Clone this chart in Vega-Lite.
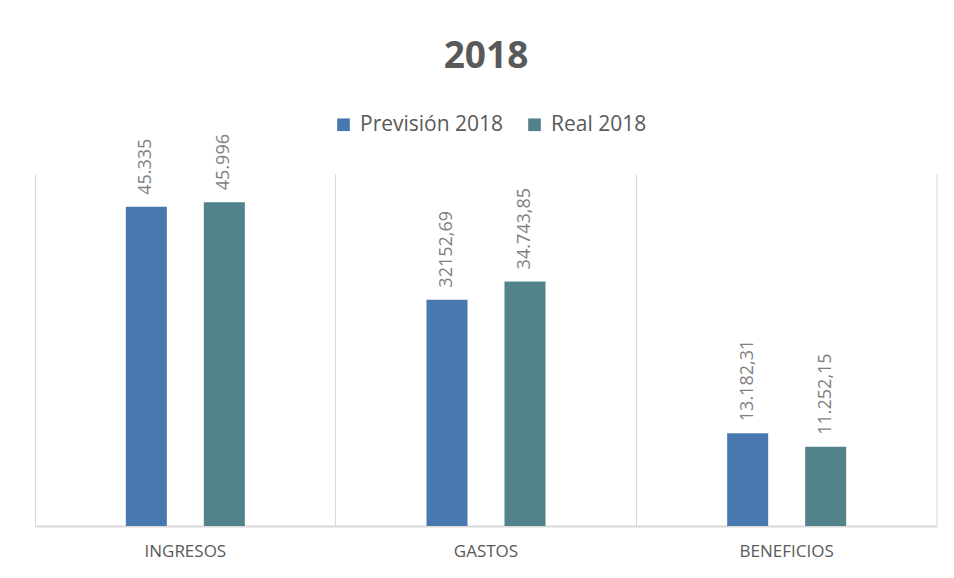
{
  "$schema": "https://vega.github.io/schema/vega-lite/v6.json",
  "width": 902,
  "height": 352,
  "autosize": {"type": "pad"},
  "padding": {"left": 35, "top": 38, "right": 17, "bottom": 10},
  "background": "#ffffff",
  "config": {"view": {"stroke": null}, "font": "Open Sans"},
  "title": {
    "text": "2018",
    "font": "Open Sans",
    "fontSize": 37,
    "fontWeight": "bold",
    "color": "#595959",
    "anchor": "middle",
    "frame": "group",
    "offset": 38
  },
  "layer": [
    {
      "data": {
        "values": [
          {"cat": "INGRESOS", "serie": "Previsión 2018", "valor": 45335, "etiqueta": "45.335"},
          {"cat": "INGRESOS", "serie": "Real 2018", "valor": 45996, "etiqueta": "45.996"},
          {"cat": "GASTOS", "serie": "Previsión 2018", "valor": 32152.69, "etiqueta": "32152,69"},
          {"cat": "GASTOS", "serie": "Real 2018", "valor": 34743.85, "etiqueta": "34.743,85"},
          {"cat": "BENEFICIOS", "serie": "Previsión 2018", "valor": 13182.31, "etiqueta": "13.182,31"},
          {"cat": "BENEFICIOS", "serie": "Real 2018", "valor": 11252.15, "etiqueta": "11.252,15"}
        ]
      },
      "encoding": {
        "x": {
          "field": "cat",
          "type": "nominal",
          "sort": ["INGRESOS", "GASTOS", "BENEFICIOS"],
          "scale": {"paddingInner": 0, "paddingOuter": 0},
          "axis": {
            "title": null,
            "labelAngle": 0,
            "grid": true,
            "bandPosition": 0,
            "gridColor": "#d9d9d9",
            "gridWidth": 1,
            "domainColor": "#d9d9d9",
            "domainWidth": 2,
            "ticks": false,
            "labelFont": "Open Sans",
            "labelFontSize": 17,
            "labelColor": "#595959",
            "labelPadding": 17
          }
        },
        "xOffset": {
          "field": "serie",
          "type": "nominal",
          "scale": {
            "domain": [" ", "Previsión 2018", "Real 2018", "  "],
            "paddingInner": 0.474,
            "paddingOuter": 0.165
          }
        },
        "y": {
          "field": "valor",
          "type": "quantitative",
          "scale": {"domain": [0, 50000], "nice": false},
          "axis": null
        }
      },
      "layer": [
        {
          "mark": {"type": "bar"},
          "encoding": {
            "color": {
              "field": "serie",
              "type": "nominal",
              "scale": {"domain": ["Previsión 2018", "Real 2018"], "range": ["#4878b0", "#52838a"]},
              "legend": {
                "title": null,
                "orient": "none",
                "direction": "horizontal",
                "legendX": 298,
                "legendY": -60,
                "symbolType": "square",
                "symbolSize": 160,
                "symbolStrokeWidth": 0,
                "labelFont": "Open Sans",
                "labelFontSize": 21,
                "labelColor": "#595959",
                "columnPadding": 20,
                "labelOffset": 6
              }
            }
          }
        },
        {
          "mark": {
            "type": "text",
            "angle": -90,
            "align": "left",
            "baseline": "middle",
            "dx": 12,
            "font": "Open Sans",
            "fontSize": 18,
            "color": "#7f7f7f"
          },
          "encoding": {"text": {"field": "etiqueta", "type": "nominal"}}
        }
      ]
    },
    {
      "data": {"values": [{"cat": "BENEFICIOS"}]},
      "mark": {"type": "rule", "color": "#d9d9d9", "strokeWidth": 1},
      "encoding": {
        "x": {
          "field": "cat",
          "type": "nominal",
          "sort": ["INGRESOS", "GASTOS", "BENEFICIOS"],
          "bandPosition": 1
        }
      }
    }
  ]
}
